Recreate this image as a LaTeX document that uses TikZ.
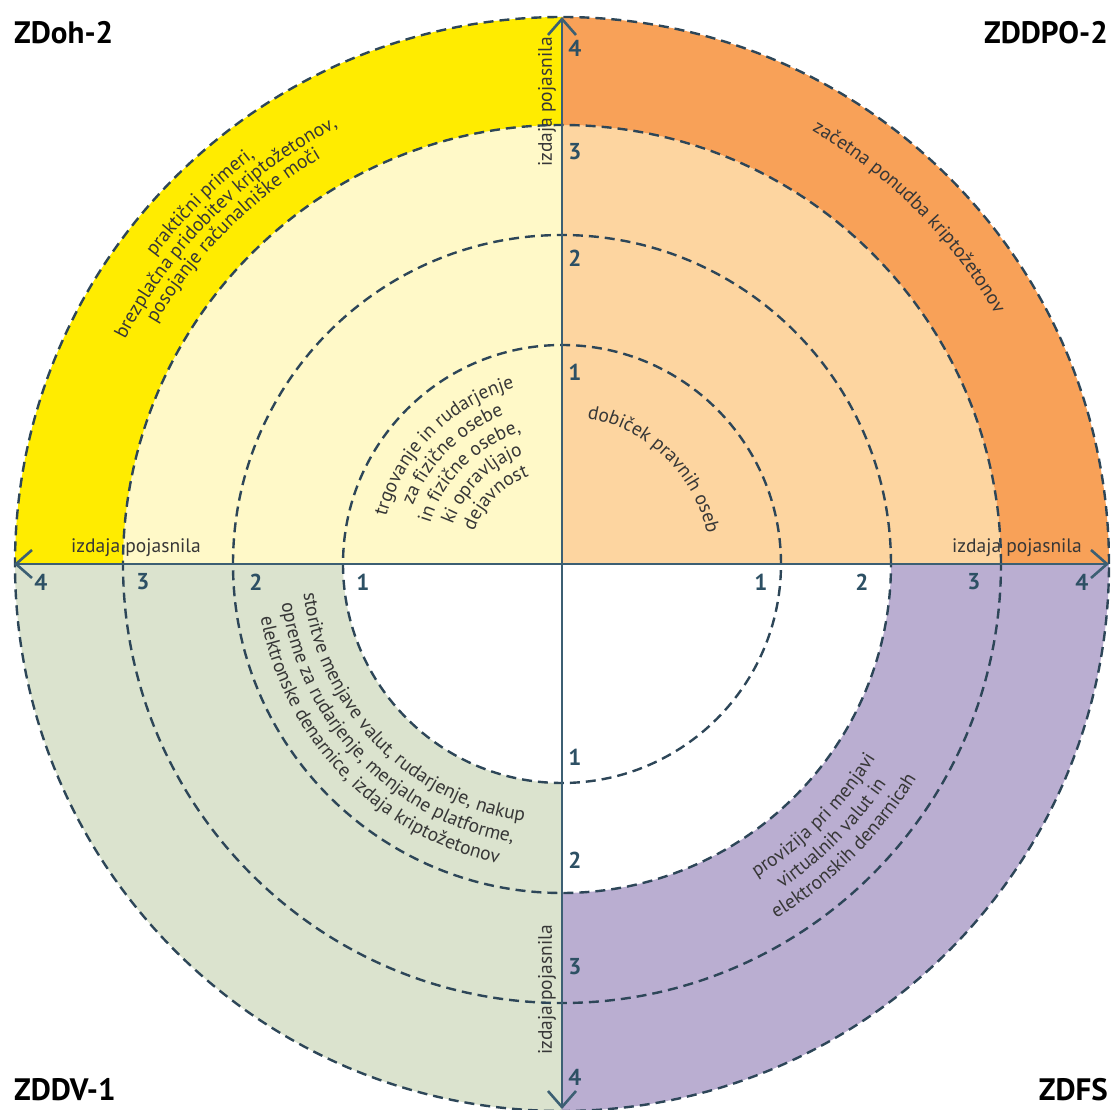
\documentclass[tikz,border=0pt]{standalone}
\usepackage{fontspec}
\setmainfont{PT Sans}
\usetikzlibrary{decorations.text,arrows.meta}
\definecolor{yellowband}{RGB}{255,236,0}
\definecolor{lightyellow}{RGB}{255,249,200}
\definecolor{orangeband}{RGB}{248,161,88}
\definecolor{lightorange}{RGB}{253,213,160}
\definecolor{greenband}{RGB}{219,227,206}
\definecolor{lavender}{RGB}{186,174,209}
\definecolor{dashcol}{RGB}{45,70,88}
\definecolor{axiscol}{RGB}{60,95,115}
\definecolor{numcol}{RGB}{45,80,100}
\definecolor{txtcol}{RGB}{55,55,55}
\newcommand\txtfont{\fontsize{19.5pt}{22pt}\selectfont\color{txtcol}}
\newcommand\arctext[4]{%
  \path[decorate,decoration={text along path,text align=center,text={|\txtfont|#4}}]
    (#2:#1pt) arc[start angle=#2,end angle=#3,radius=#1pt];}
\begin{document}
\begin{tikzpicture}[x=1pt,y=1pt,
  ring/.style={draw=dashcol,line width=2.4pt,dash pattern=on 10pt off 6pt},
  axisline/.style={draw=axiscol,line width=2.6pt,
    {Straight Barb[length=16pt,width=28pt]}-{Straight Barb[length=16pt,width=28pt]}},
  num/.style={font=\fontsize{23pt}{26pt}\selectfont\bfseries,text=numcol,inner sep=0pt},
  corner/.style={font=\fontsize{31pt}{34pt}\selectfont\bfseries,text=black,inner sep=0pt},
  axtext/.style={font=\txtfont,inner sep=0pt}]
\useasboundingbox (-562,-546) rectangle (552,564);
% fills
\fill[lightyellow] (0,0) -- (180:439pt) arc[start angle=180,end angle=90,radius=439pt] -- cycle;
\fill[yellowband] (180:439pt) -- (180:547pt) arc[start angle=180,end angle=90,radius=547pt]
  -- (90:439pt) arc[start angle=90,end angle=180,radius=439pt] -- cycle;
\fill[lightorange] (0,0) -- (0:439pt) arc[start angle=0,end angle=90,radius=439pt] -- cycle;
\fill[orangeband] (0:439pt) -- (0:547pt) arc[start angle=0,end angle=90,radius=547pt]
  -- (90:439pt) arc[start angle=90,end angle=0,radius=439pt] -- cycle;
\fill[greenband] (180:219pt) -- (180:547pt) arc[start angle=180,end angle=270,radius=547pt]
  -- (270:219pt) arc[start angle=270,end angle=180,radius=219pt] -- cycle;
\fill[lavender] (270:329pt) -- (270:547pt) arc[start angle=270,end angle=360,radius=547pt]
  -- (0:329pt) arc[start angle=360,end angle=270,radius=329pt] -- cycle;
% dashed rings
\foreach \r in {219,329,439,547} \draw[ring] (0,0) circle[radius=\r pt];
% axes
\coordinate (L) at (-548,0);
\coordinate (R) at (547,0);
\coordinate (T) at (0,547);
\coordinate (B) at (0,-545);
\draw[axisline] (L) -- (R);
\draw[axisline] (B) -- (T);
% axis numbers
\node[num] (t4) at (13,516) {4};
\node[num] (t3) at (13,412) {3};
\node[num] (t2) at (13,306) {2};
\node[num] (t1) at (13,192) {1};
\node[num] (b1) at (13,-193) {1};
\node[num] (b2) at (13,-296) {2};
\node[num] (b3) at (13,-403) {3};
\node[num] (b4) at (13,-513) {4};
\node[num] (l4) at (-521,-18) {4};
\node[num] (l3) at (-419,-18) {3};
\node[num] (l2) at (-306,-18) {2};
\node[num] (l1) at (-199,-18) {1};
\node[num] (r1) at (199,-18) {1};
\node[num] (r2) at (300,-18) {2};
\node[num] (r3) at (412,-18) {3};
\node[num] (r4) at (520,-18) {4};
% axis texts
\node[axtext,rotate=90] (vt) at (-15,462) {izdaja pojasnila};
\node[axtext,rotate=90] (vb) at (-15,-426) {izdaja pojasnila};
\node[axtext] (hl) at (-426,16) {izdaja pojasnila};
\node[axtext] (hr) at (455,16) {izdaja pojasnila};
% corner labels
\node[corner,anchor=west] (c1) at (-548,531) {ZDoh-2};
\node[corner,anchor=east] (c2) at (546,531) {ZDDPO-2};
\node[corner,anchor=west] (c3) at (-548,-526) {ZDDV-1};
\node[corner,anchor=east] (c4) at (546,-526) {ZDFS};
% curved texts: top-left band
\arctext{510}{180}{90}{praktični primeri,}
\arctext{491}{180}{90}{brezplačna pridobitev kriptožetonov,}
\arctext{472}{180}{90}{posojanje računalniške moči}
% top-left inner
\arctext{182}{180}{90}{trgovanje in rudarjenje}
\arctext{160}{180}{90}{za fizične osebe}
\arctext{138}{180}{90}{in fizične osebe,}
\arctext{116}{180}{90}{ki opravljajo}
\arctext{94}{180}{90}{dejavnost}
% top-right
\arctext{500}{90}{0}{začetna ponudba kriptožetonov}
\arctext{148}{91}{1}{dobiček pravnih oseb}
% bottom-left
\arctext{260}{179}{269}{storitve menjave valut, rudarjenje, nakup}
\arctext{283}{179}{269}{opreme za rudarjenje, menjalne platforme,}
\arctext{306}{179}{269}{elektronske denarnice, izdaja kriptožetonov}
% bottom-right
\arctext{369}{270}{360}{provizija pri menjavi}
\arctext{392}{270}{360}{virtualnih valut in}
\arctext{414}{270}{360}{elektronskih denarnicah}
\end{tikzpicture}
\end{document}
